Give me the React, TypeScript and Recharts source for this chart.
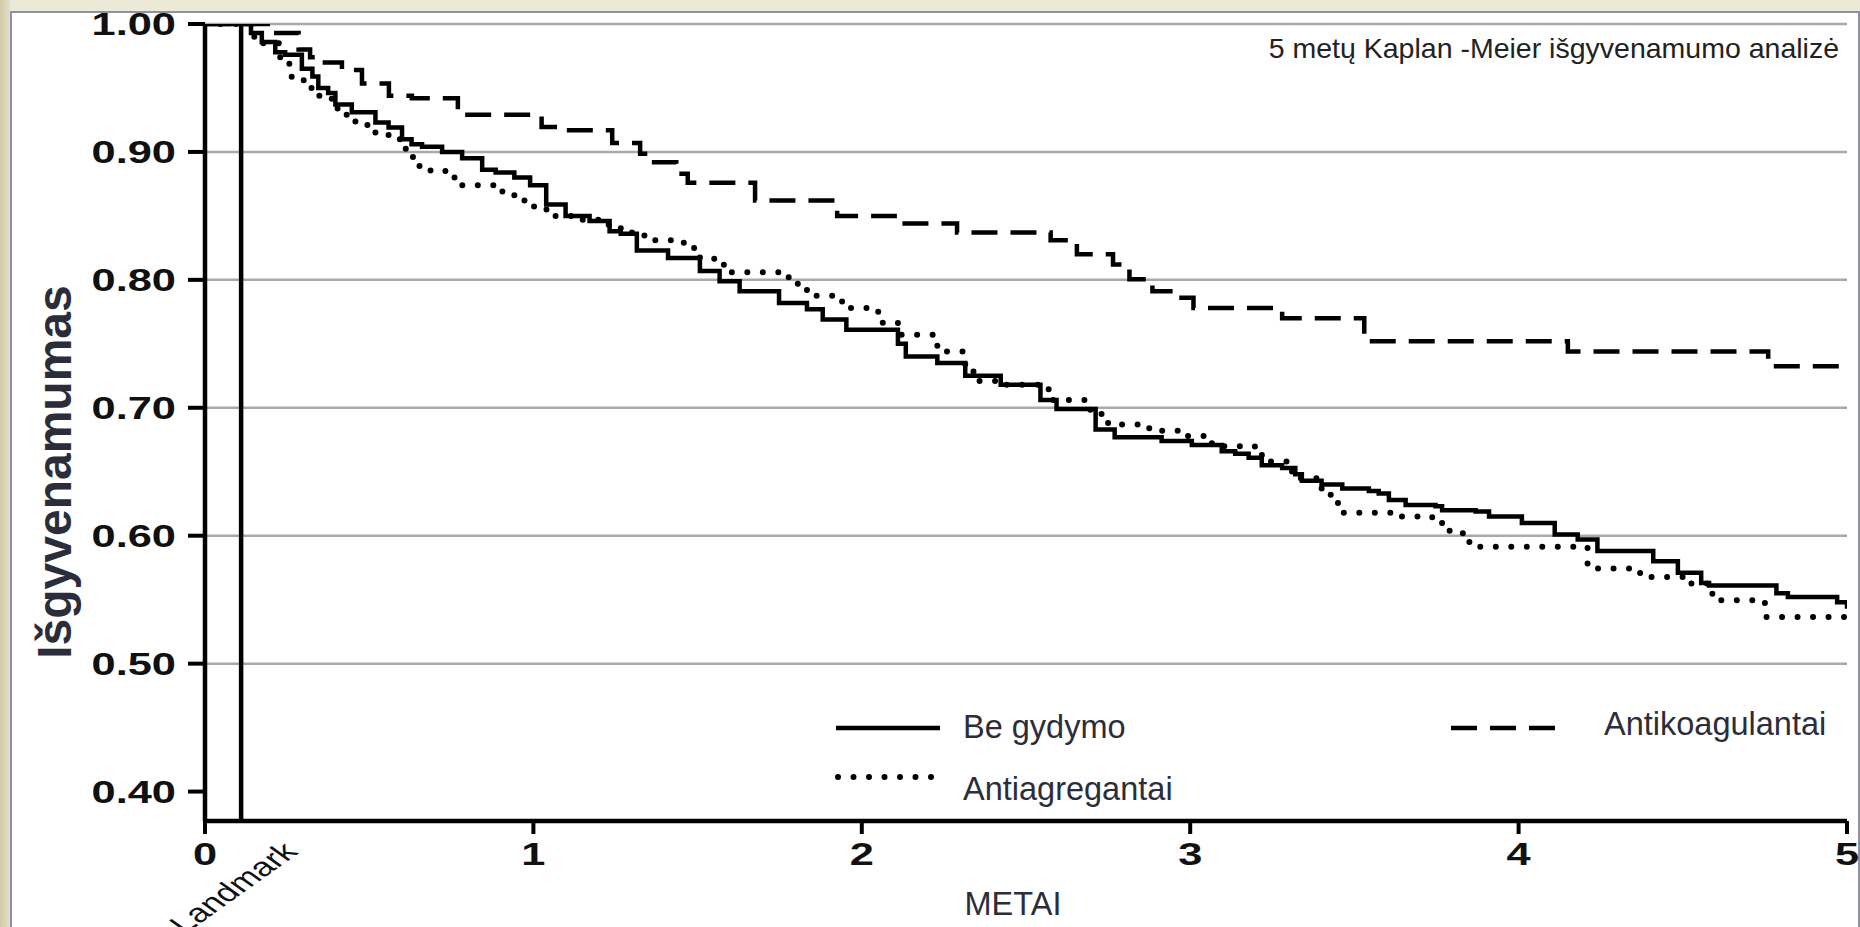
import React from 'react';
import { LineChart, Line, XAxis, YAxis, ReferenceLine } from 'recharts';

// ---------- data ----------
const X_TICKS = [0, 1, 2, 3, 4, 5];
const Y_TICKS = [0.4, 0.5, 0.6, 0.7, 0.8, 0.9, 1.0];
const GRID_VALUES = [0.5, 0.6, 0.7, 0.8, 0.9, 1.0];
const LANDMARK_T = 0.11;
const LANDMARK_LABEL = 'Landmark';
const TITLE = '5 metų Kaplan -Meier išgyvenamumo analizė';
const Y_LABEL = 'Išgyvenamumas';
const X_LABEL = 'METAI';

const noTreatmentT = [0, 0.11, 0.14, 0.173, 0.214, 0.244, 0.295, 0.327, 0.345, 0.375, 0.397, 0.447, 0.519, 0.559, 0.6, 0.629, 0.661, 0.722, 0.783, 0.844, 0.885, 0.942, 0.99, 1.039, 1.098, 1.171, 1.232, 1.266, 1.315, 1.41, 1.507, 1.567, 1.628, 1.748, 1.833, 1.881, 1.953, 2.11, 2.134, 2.23, 2.315, 2.423, 2.544, 2.593, 2.712, 2.77, 2.913, 3.005, 3.096, 3.137, 3.178, 3.218, 3.28, 3.32, 3.34, 3.4, 3.463, 3.544, 3.574, 3.605, 3.656, 3.747, 3.767, 3.869, 3.91, 4.01, 4.11, 4.18, 4.24, 4.41, 4.485, 4.556, 4.58, 4.785, 4.82, 4.97, 5.0];
const noTreatmentS = [1.0, 1.0, 0.993, 0.986, 0.978, 0.976, 0.965, 0.959, 0.95, 0.946, 0.937, 0.931, 0.923, 0.919, 0.91, 0.906, 0.904, 0.9, 0.895, 0.886, 0.884, 0.88, 0.874, 0.859, 0.85, 0.846, 0.838, 0.836, 0.823, 0.817, 0.807, 0.799, 0.791, 0.782, 0.777, 0.769, 0.761, 0.75, 0.74, 0.735, 0.725, 0.718, 0.706, 0.699, 0.683, 0.677, 0.674, 0.671, 0.666, 0.664, 0.661, 0.655, 0.653, 0.648, 0.643, 0.64, 0.637, 0.635, 0.633, 0.628, 0.624, 0.623, 0.62, 0.619, 0.615, 0.61, 0.601, 0.597, 0.588, 0.58, 0.571, 0.563, 0.561, 0.555, 0.552, 0.548, 0.543];

const antiplateletT = [0, 0.11, 0.15, 0.229, 0.264, 0.305, 0.345, 0.386, 0.417, 0.458, 0.519, 0.559, 0.6, 0.63, 0.64, 0.681, 0.732, 0.783, 0.882, 0.942, 1.002, 1.063, 1.135, 1.22, 1.266, 1.338, 1.458, 1.507, 1.58, 1.748, 1.797, 1.833, 1.94, 2.05, 2.11, 2.23, 2.315, 2.34, 2.423, 2.569, 2.688, 2.73, 2.75, 2.873, 2.91, 2.984, 3.066, 3.197, 3.238, 3.31, 3.4, 3.42, 3.45, 3.625, 3.737, 3.767, 3.79, 3.85, 3.88, 4.21, 4.37, 4.51, 4.59, 4.75, 5.0];
const antiplateletS = [1.0, 1.0, 0.985, 0.969, 0.956, 0.95, 0.944, 0.934, 0.929, 0.921, 0.914, 0.91, 0.9025, 0.896, 0.889, 0.8855, 0.88, 0.874, 0.869, 0.862, 0.855, 0.85, 0.847, 0.843, 0.837, 0.831, 0.825, 0.8165, 0.806, 0.802, 0.797, 0.7875, 0.778, 0.7665, 0.757, 0.744, 0.734, 0.721, 0.718, 0.706, 0.6985, 0.693, 0.687, 0.684, 0.682, 0.678, 0.67, 0.663, 0.658, 0.645, 0.637, 0.632, 0.618, 0.615, 0.612, 0.607, 0.602, 0.595, 0.5914, 0.5744, 0.5678, 0.5626, 0.5496, 0.5365, 0.5365];

const anticoagulantT = [0, 0.11, 0.2, 0.285, 0.32, 0.336, 0.417, 0.478, 0.56, 0.63, 0.77, 1.025, 1.1, 1.24, 1.325, 1.355, 1.435, 1.47, 1.675, 1.925, 2.1, 2.29, 2.575, 2.655, 2.765, 2.815, 2.885, 2.95, 3.01, 3.28, 3.53, 4.15, 4.76, 5.0];
const anticoagulantS = [1.0, 1.0, 0.993, 0.98, 0.974, 0.97, 0.964, 0.9535, 0.944, 0.942, 0.929, 0.9195, 0.917, 0.907, 0.8986, 0.892, 0.883, 0.876, 0.862, 0.85, 0.844, 0.837, 0.831, 0.82, 0.812, 0.8005, 0.791, 0.786, 0.778, 0.77, 0.752, 0.744, 0.7325, 0.7325];

const toRows = (t: number[], s: number[]) => t.map((x, i) => ({ t: x, s: s[i] }));

const SERIES = [
  { key: 'anticoag', name: 'Antikoagulantai', data: toRows(anticoagulantT, anticoagulantS), dash: '26 13', width: 4.5, cap: 'butt' },
  { key: 'antiplat', name: 'Antiagregantai', data: toRows(antiplateletT, antiplateletS), dash: '0 15.5', width: 6, cap: 'round' },
  { key: 'none', name: 'Be gydymo', data: toRows(noTreatmentT, noTreatmentS), dash: undefined, width: 4.5, cap: 'butt' },
];

// ---------- styling ----------
const STRETCH = 1.4;
const TICK_FONT = { fontFamily: '"Liberation Sans", Arial, sans-serif', fontSize: 31, fontWeight: 700, fill: '#111' };
const TEXT_COLOR = '#2c2d3b';
const SANS = '"Liberation Sans", Arial, Helvetica, sans-serif';

function YTick(props: any) {
  const { x, y, payload } = props;
  return (
    <g transform={`translate(${x},${y}) scale(${STRETCH},1)`}>
      <text x={0} y={0} dy="0.355em" textAnchor="end" {...TICK_FONT}>
        {Number(payload.value).toFixed(2)}
      </text>
    </g>
  );
}

function XTick(props: any) {
  const { x, y, payload } = props;
  return (
    <g transform={`translate(${x},${y}) scale(${STRETCH},1)`}>
      <text x={0} y={0} dy="0.71em" textAnchor="middle" {...TICK_FONT}>
        {payload.value}
      </text>
    </g>
  );
}

function LandmarkLabel(props: any) {
  const vb = props.viewBox || {};
  const bx = vb.x + 58;
  const by = vb.y + vb.height + 32;
  return (
    <g transform={`translate(${bx},${by}) scale(${STRETCH},1) rotate(-45)`}>
      <text x={0} y={0} textAnchor="end" fontFamily={SANS} fontSize={26} fill="#111">
        {LANDMARK_LABEL}
      </text>
    </g>
  );
}

const W = 1860;
const H = 927;

export default function App() {
  const legendSolid = SERIES[2];
  const legendDot = SERIES[1];
  const legendDash = SERIES[0];
  return (
    <div style={{ position: 'absolute', left: 0, top: 0, width: W, height: H, overflow: 'hidden', background: '#eceAd6' }}>
      <div style={{ position: 'absolute', left: 0, top: 0, width: 10, height: H, background: 'linear-gradient(to right, #cfcba9, #e3e0c6)' }} />
      <div style={{ position: 'absolute', left: 10, top: 11, width: W - 10, height: H, background: '#fff', border: '2px solid #8f8fa6', boxSizing: 'border-box' }} />
      <div style={{ position: 'absolute', left: 0, top: 0 }}>
        <LineChart width={W} height={H} margin={{ top: 24, right: 13, bottom: 0, left: 0 }}>
          {GRID_VALUES.map((v) => (
            <ReferenceLine key={v} y={v} stroke="#a9a9a9" strokeWidth={2.5} ifOverflow="visible" />
          ))}
          <XAxis
            type="number"
            dataKey="t"
            domain={[0, 5]}
            ticks={X_TICKS}
            allowDataOverflow
            height={106}
            tickSize={13}
            tickMargin={9}
            axisLine={{ stroke: '#000', strokeWidth: 4.5 }}
            tickLine={{ stroke: '#000', strokeWidth: 4 }}
            tick={<XTick />}
            interval={0}
          />
          <YAxis
            type="number"
            domain={[0.377, 1]}
            ticks={Y_TICKS}
            allowDataOverflow
            width={205}
            tickSize={17}
            tickMargin={12}
            axisLine={{ stroke: '#000', strokeWidth: 4.5 }}
            tickLine={{ stroke: '#000', strokeWidth: 4 }}
            tick={<YTick />}
            interval={0}
          />
          {SERIES.map((s) => (
            <Line
              key={s.key}
              data={s.data}
              dataKey="s"
              name={s.name}
              type="stepAfter"
              stroke="#000"
              strokeWidth={s.width}
              strokeDasharray={s.dash}
              strokeLinecap={s.cap as any}
              dot={false}
              activeDot={false}
              isAnimationActive={false}
            />
          ))}
          <ReferenceLine x={LANDMARK_T} stroke="#000" strokeWidth={4.5} label={<LandmarkLabel />} />
        </LineChart>
      </div>
      <svg width={W} height={H} style={{ position: 'absolute', left: 0, top: 0, pointerEvents: 'none' }}>
        <text x={1839} y={58} textAnchor="end" fontFamily={SANS} fontSize={28.5} fill="#222">{TITLE}</text>
        <text x={71} y={472} transform="rotate(-90 71 472)" textAnchor="middle" fontFamily={SANS} fontSize={48} fontWeight={700} fill={TEXT_COLOR}>{Y_LABEL}</text>
        <text x={1013} y={915} textAnchor="middle" fontFamily={SANS} fontSize={32.5} fill={TEXT_COLOR}>{X_LABEL}</text>
        {/* legend */}
        <line x1={836} y1={728} x2={940} y2={728} stroke="#000" strokeWidth={4.5} />
        <text x={963} y={738} fontFamily={SANS} fontSize={32.5} fill={TEXT_COLOR}>{legendSolid.name}</text>
        <line x1={838} y1={777} x2={936} y2={777} stroke="#000" strokeWidth={6} strokeDasharray={legendDot.dash} strokeLinecap="round" />
        <text x={963} y={800} fontFamily={SANS} fontSize={32.5} fill={TEXT_COLOR}>{legendDot.name}</text>
        <line x1={1451} y1={728} x2={1557} y2={728} stroke="#000" strokeWidth={4.5} strokeDasharray={legendDash.dash} />
        <text x={1604} y={735} fontFamily={SANS} fontSize={32.5} fill={TEXT_COLOR}>{legendDash.name}</text>
      </svg>
    </div>
  );
}
